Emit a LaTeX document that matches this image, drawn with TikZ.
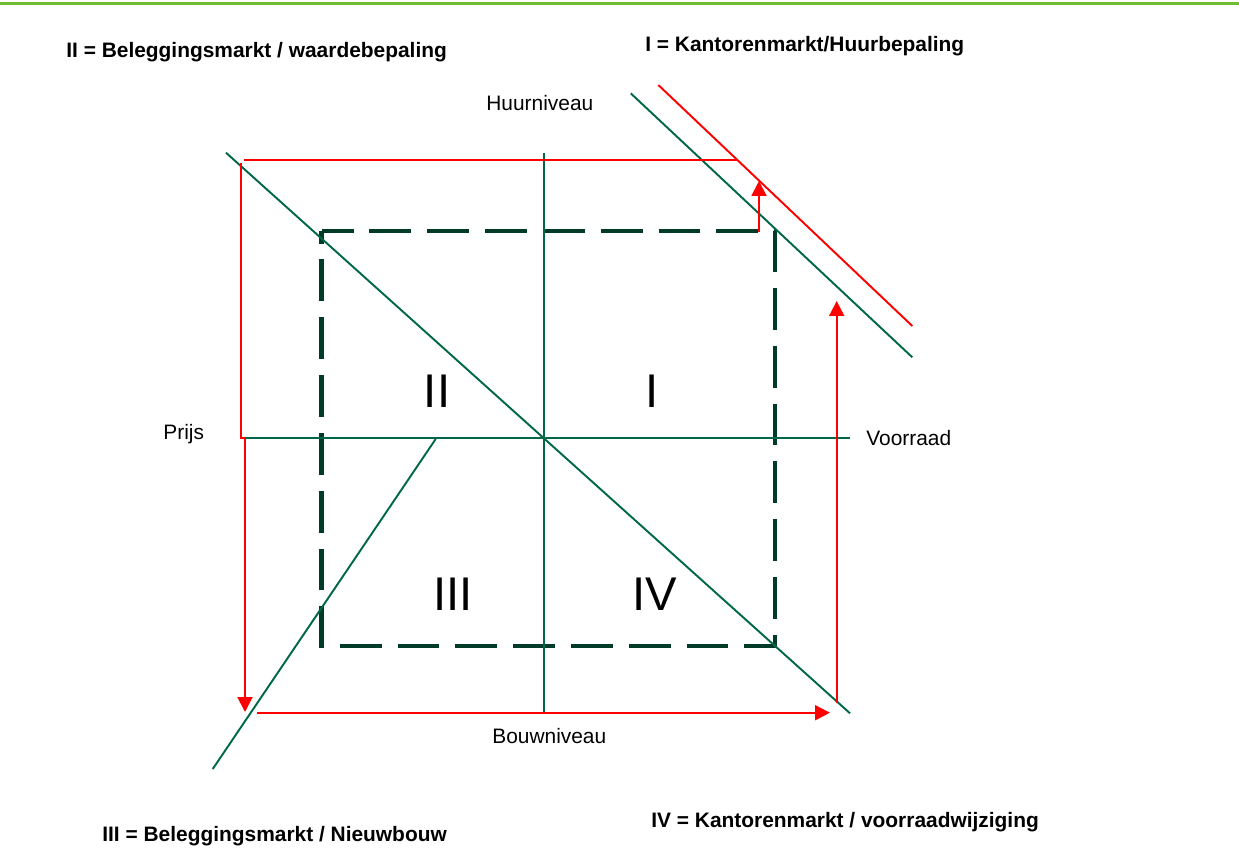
\documentclass[tikz,border=0pt]{standalone}
\usepackage{fontspec}
\setmainfont{Liberation Sans}
\usetikzlibrary{arrows.meta}
\definecolor{lgreen}{RGB}{0,104,72}
\definecolor{boxgreen}{RGB}{0,58,40}
\definecolor{bargreen}{RGB}{110,190,50}
\definecolor{redc}{RGB}{255,0,0}
\tikzset{
  axisline/.style={draw=lgreen, line width=1.1pt},
  redline/.style={draw=redc, line width=1.1pt},
  redarrow/.style={redline, -{Triangle[length=8.5pt,width=8.5pt]}},
  dashbox/.style={draw=boxgreen, line width=2.6pt, dash pattern=on 23.8pt off 9.1pt, dash phase=5.7pt, line join=miter},
  lbl/.style={inner sep=0pt, font=\fontsize{11.9}{14}\selectfont},
  ttl/.style={inner sep=0pt, font=\bfseries\fontsize{11.9}{14}\selectfont},
  roman/.style={inner sep=0pt, font=\fontsize{26.9}{30}\selectfont}
}
\begin{document}
\begin{tikzpicture}[x=0.02cm,y=-0.02cm]
\useasboundingbox (0,0) rectangle (1239,852);
% top bar
\coordinate (barL) at (0,3.5);
\coordinate (barR) at (1239,3.5);
\draw[draw=bargreen, line width=1.7pt] (barL) -- (barR);

% coordinates
\coordinate (vTop) at (544.3,152.7);
\coordinate (vBot) at (544.3,712.7);
\coordinate (hL) at (245.7,438.3);
\coordinate (hR) at (850,438.3);
\coordinate (dA) at (226,152.7);
\coordinate (dB) at (850,713.3);
\coordinate (sA) at (435.7,439);
\coordinate (sB) at (212.7,769);
\coordinate (gA) at (630.7,93.3);
\coordinate (gB) at (912.3,357.3);
\coordinate (rA) at (658.3,85);
\coordinate (rB) at (912.3,326);
\coordinate (bTL) at (321.7,231);
\coordinate (bTR) at (775,231);
\coordinate (bBR) at (775,646);
\coordinate (bBL) at (321.7,646);

% dashed box
\draw[dashbox] (bTL) -- (bTR) -- (bBR) -- (bBL) -- cycle;

% green lines
\draw[axisline] (vTop) -- (vBot);
\draw[axisline] (hL) -- (hR);
\draw[axisline] (dA) -- (dB);
\draw[axisline] (sA) -- (sB);
\draw[axisline] (gA) -- (gB);

% red lines
\coordinate (tL) at (244.3,160);
\coordinate (tR) at (738.3,160);
\coordinate (lTop) at (241,163.3);
\coordinate (lMid) at (241,438.3);
\coordinate (lMid2) at (245,438.3);
\coordinate (lTip) at (245,712);
\coordinate (bS) at (257,712.7);
\coordinate (bTip) at (830,712.7);
\coordinate (rS) at (836.7,702.7);
\coordinate (rTip) at (836.7,301);
\coordinate (sS) at (759,231.7);
\coordinate (sTip) at (759,181);

\draw[redline] (rA) -- (rB);
\draw[redline] (tL) -- (tR);
\draw[redarrow] (lTop) -- (lMid) -- (lMid2) -- (lTip);
\draw[redarrow] (bS) -- (bTip);
\draw[redarrow] (rS) -- (rTip);
\draw[redarrow] (sS) -- (sTip);

% titles
\node[ttl, anchor=base west] (tII) at (66,57) {II = Beleggingsmarkt / waardebepaling};
\node[ttl, anchor=base west] (tI) at (645,51) {I = Kantorenmarkt/Huurbepaling};
\node[ttl, anchor=base west] (tIII) at (102,841) {III = Beleggingsmarkt / Nieuwbouw};
\node[ttl, anchor=base west] (tIV) at (651,827) {IV = Kantorenmarkt / voorraadwijziging};

% axis labels
\node[lbl, anchor=base west] (huur) at (486,110) {Huurniveau};
\node[lbl, anchor=base west] (bouw) at (492,743) {Bouwniveau};
\node[lbl, anchor=base west] (voor) at (866,445) {Voorraad};
\node[lbl, anchor=base west] (prijs) at (163,439) {Prijs};

% quadrant numerals
\node[roman, anchor=base] (qII) at (437,407) {II};
\node[roman, anchor=base] (qI) at (652,407) {I};
\node[roman, anchor=base] (qIII) at (453,610) {III};
\node[roman, anchor=base] (qIV) at (655,610) {IV};
\end{tikzpicture}
\end{document}
